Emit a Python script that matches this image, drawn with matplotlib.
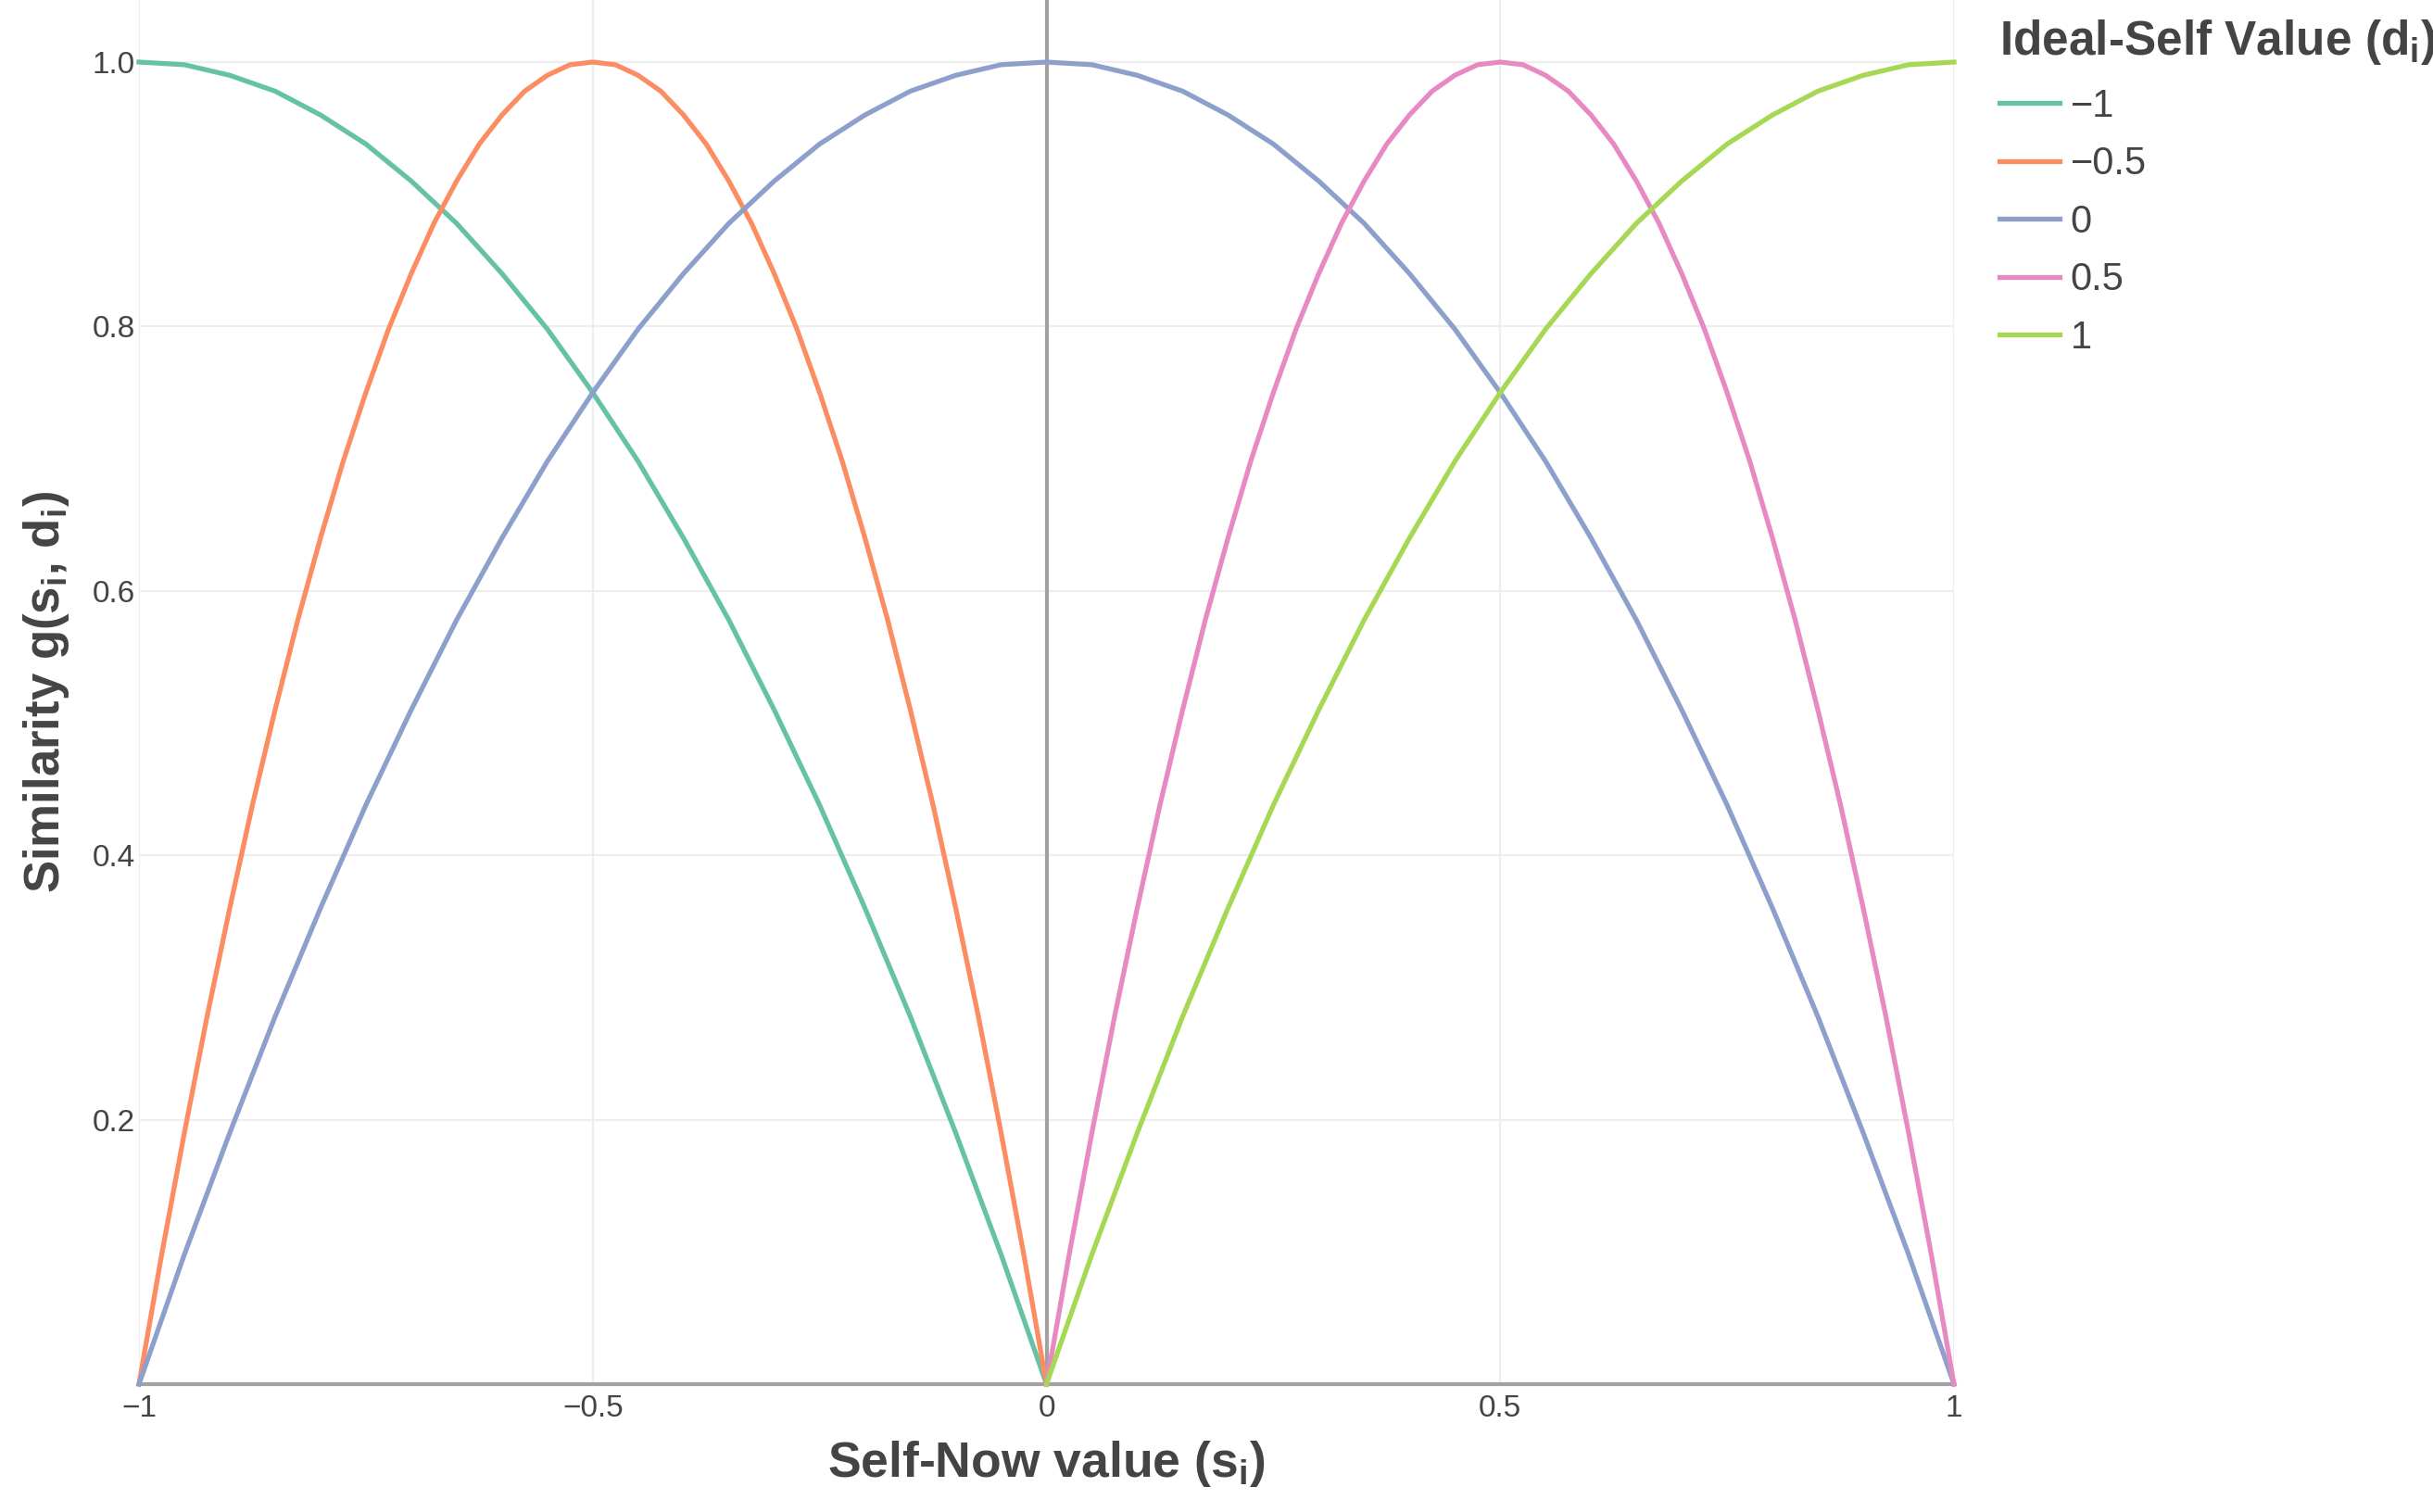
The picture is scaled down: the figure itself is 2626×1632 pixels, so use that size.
import numpy as np
import matplotlib
matplotlib.use('Agg')
import matplotlib.pyplot as plt


plt.rcParams['font.family'] = ['Liberation Sans', 'DejaVu Sans']
plt.rcParams['mathtext.fontset'] = 'custom'
plt.rcParams['mathtext.rm'] = 'Liberation Sans:bold'
plt.rcParams['mathtext.it'] = 'Liberation Sans:bold'
plt.rcParams['mathtext.bf'] = 'Liberation Sans:bold'
plt.rcParams['mathtext.default'] = 'rm'


# Self-now values: left half, right half, full range.
s_left = [-1.0, -0.975, -0.95, -0.925, -0.9, -0.875, -0.85, -0.825, -0.8, -0.775,
          -0.75, -0.725, -0.7, -0.675, -0.65, -0.625, -0.6, -0.575, -0.55, -0.525,
          -0.5, -0.475, -0.45, -0.425, -0.4, -0.375, -0.35, -0.325, -0.3, -0.275,
          -0.25, -0.225, -0.2, -0.175, -0.15, -0.125, -0.1, -0.075, -0.05, -0.025, 0.0]
s_right = [0.0, 0.025, 0.05, 0.075, 0.1, 0.125, 0.15, 0.175, 0.2, 0.225,
           0.25, 0.275, 0.3, 0.325, 0.35, 0.375, 0.4, 0.425, 0.45, 0.475,
           0.5, 0.525, 0.55, 0.575, 0.6, 0.625, 0.65, 0.675, 0.7, 0.725,
           0.75, 0.775, 0.8, 0.825, 0.85, 0.875, 0.9, 0.925, 0.95, 0.975, 1.0]
s_full = s_left + s_right[1:]

# Similarity, one list per ideal-self value.
g_m1 = [1.0, 0.999, 0.998, 0.994, 0.99, 0.984, 0.978, 0.969, 0.96, 0.949,
        0.938, 0.924, 0.91, 0.894, 0.878, 0.859, 0.84, 0.819, 0.798, 0.774,
        0.75, 0.724, 0.698, 0.669, 0.64, 0.609, 0.578, 0.544, 0.51, 0.474,
        0.438, 0.399, 0.36, 0.319, 0.278, 0.234, 0.19, 0.144, 0.098, 0.049, 0.0]
g_m05 = [0.0, 0.098, 0.19, 0.278, 0.36, 0.438, 0.51, 0.578, 0.64, 0.698,
         0.75, 0.798, 0.84, 0.878, 0.91, 0.938, 0.96, 0.978, 0.99, 0.998,
         1.0, 0.998, 0.99, 0.978, 0.96, 0.938, 0.91, 0.878, 0.84, 0.798,
         0.75, 0.698, 0.64, 0.578, 0.51, 0.438, 0.36, 0.278, 0.19, 0.098, 0.0]
g_0 = [0.0, 0.049, 0.098, 0.144, 0.19, 0.234, 0.278, 0.319, 0.36, 0.399,
       0.438, 0.474, 0.51, 0.544, 0.578, 0.609, 0.64, 0.669, 0.698, 0.724,
       0.75, 0.774, 0.798, 0.819, 0.84, 0.859, 0.878, 0.894, 0.91, 0.924,
       0.938, 0.949, 0.96, 0.969, 0.978, 0.984, 0.99, 0.994, 0.998, 0.999,
       1.0,
       0.999, 0.998, 0.994, 0.99, 0.984, 0.978, 0.969, 0.96, 0.949,
       0.938, 0.924, 0.91, 0.894, 0.878, 0.859, 0.84, 0.819, 0.798, 0.774,
       0.75, 0.724, 0.698, 0.669, 0.64, 0.609, 0.578, 0.544, 0.51, 0.474,
       0.438, 0.399, 0.36, 0.319, 0.278, 0.234, 0.19, 0.144, 0.098, 0.049, 0.0]
g_05 = [0.0, 0.098, 0.19, 0.278, 0.36, 0.438, 0.51, 0.578, 0.64, 0.698,
        0.75, 0.798, 0.84, 0.878, 0.91, 0.938, 0.96, 0.978, 0.99, 0.998,
        1.0, 0.998, 0.99, 0.978, 0.96, 0.938, 0.91, 0.878, 0.84, 0.798,
        0.75, 0.698, 0.64, 0.578, 0.51, 0.438, 0.36, 0.278, 0.19, 0.098, 0.0]
g_1 = [0.0, 0.049, 0.098, 0.144, 0.19, 0.234, 0.278, 0.319, 0.36, 0.399,
       0.438, 0.474, 0.51, 0.544, 0.578, 0.609, 0.64, 0.669, 0.698, 0.724,
       0.75, 0.774, 0.798, 0.819, 0.84, 0.859, 0.878, 0.894, 0.91, 0.924,
       0.938, 0.949, 0.96, 0.969, 0.978, 0.984, 0.99, 0.994, 0.998, 0.999, 1.0]

labels = ['\u22121', '\u22120.5', '0', '0.5', '1']
colors = ['#66c2a5', '#fc8d62', '#8da0cb', '#e78ac3', '#a6d854']

x_ticks = [-1, -0.5, 0, 0.5, 1]
x_ticklabels = ['\u22121', '\u22120.5', '0', '0.5', '1']
y_ticks = [0.2, 0.4, 0.6, 0.8, 1.0]
y_ticklabels = ['0.2', '0.4', '0.6', '0.8', '1.0']

text_col = '#444444'

fig = plt.figure(figsize=(26.26, 16.32), dpi=100)
ax = fig.add_axes([150 / 2626, 1 - 1494 / 1632, (2109 - 150) / 2626, 1494 / 1632])

series = [(s_left, g_m1), (s_left, g_m05), (s_full, g_0), (s_right, g_05), (s_right, g_1)]
for (xs, ys), lab, col in zip(series, labels, colors):
    ax.plot(xs, ys, color=col, lw=3.8, label=lab, clip_on=False, zorder=3)

ax.set_xlim(-1, 1)
ax.set_ylim(0, 1 + 67 / 1427)

ax.set_xticks(x_ticks)
ax.set_xticklabels(x_ticklabels)
ax.set_yticks(y_ticks)
ax.set_yticklabels(y_ticklabels)
ax.tick_params(length=0, labelsize=24, labelcolor=text_col)
ax.tick_params(axis='x', pad=8)
ax.tick_params(axis='y', pad=3)

ax.grid(True, color='#eeeeee', lw=1.6, zorder=0)
ax.set_axisbelow(True)
for sp in ax.spines.values():
    sp.set_visible(False)
ax.axhline(0, color='#a2a2a2', lw=3, zorder=2, clip_on=False)
ax.axvline(0, color='#a2a2a2', lw=3, zorder=2)

ax.set_xlabel('Self-Now value (s$_{i}$)', fontsize=38.5, fontweight='bold',
              color=text_col, labelpad=12)
ax.set_ylabel('Similarity g(s$_{i}$, d$_{i}$)', fontsize=38, fontweight='bold',
              color=text_col, labelpad=16)

leg = fig.legend(loc='upper left', bbox_to_anchor=(2150 / 2626, 1 - 11 / 1632),
                 frameon=False, fontsize=30, handlelength=1.55, handletextpad=0.28,
                 labelspacing=0.54, borderpad=0.2, borderaxespad=0,
                 title='Ideal-Self Value (d$_{i}$)',
                 title_fontproperties={'size': 37, 'weight': 'bold'})
leg._legend_box.align = 'left'
leg.get_title().set_color(text_col)
for t in leg.get_texts():
    t.set_color(text_col)
for h in leg.legend_handles:
    h.set_linewidth(3.8)

fig.savefig('out.png', dpi=100)
